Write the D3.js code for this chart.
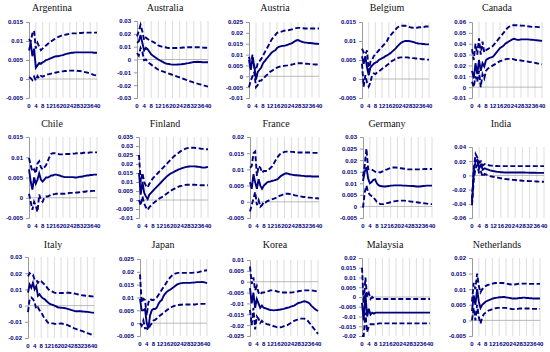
<!DOCTYPE html>
<html>
<head>
<meta charset="utf-8">
<script src="https://cdn.jsdelivr.net/npm/d3@7"></script>
<style>
  body { margin: 0; background: #fff; }
  svg { display: block; }
</style>
</head>
<body>
<div id="chart"></div>
<script>
// Impulse responses, periods 0..40: point estimate (mid) and bands (up / lo)
const countries = ["Argentina", "Australia", "Austria", "Belgium", "Canada",
                   "Chile", "Finland", "France", "Germany", "India",
                   "Italy", "Japan", "Korea", "Malaysia", "Netherlands"];
const periods = d3.range(0, 41);
const xTickLabels = [0, 4, 8, 12, 16, 20, 24, 28, 32, 36, 40];

const yMins  = [-0.005, -0.03, -0.01, -0.005, -0.01, -0.005, -0.01, -0.005, -0.005, -0.06, -0.02, -0.005, -0.025, -0.02, -0.005];
const yMaxs  = [0.015, 0.03, 0.025, 0.015, 0.06, 0.015, 0.035, 0.02, 0.03, 0.04, 0.03, 0.025, 0.01, 0.02, 0.02];
const ySteps = [0.005, 0.01, 0.005, 0.005, 0.01, 0.005, 0.005, 0.005, 0.005, 0.02, 0.01, 0.005, 0.005, 0.005, 0.005];

const argentinaMid = [.0075,.0095,.0060,.0080,.0030,.0036,.0042,.0040,.0044,.0046,
  .0050,.0051,.0053,.0055,.0057,.0059,.0060,.0060,.0061,.0062,
  .0063,.0065,.0066,.0067,.0068,.0069,.0069,.0070,.0070,.0070,
  .0070,.0070,.0070,.0070,.0070,.0070,.0070,.0070,.0069,.0069, .0069];
const argentinaUp = [.0105,.0098,.0120,.0127,.0080,.0095,.0085,.0076,.0080,.0084,
  .0088,.0092,.0096,.0099,.0102,.0105,.0108,.0110,.0112,.0114,
  .0115,.0116,.0117,.0118,.0119,.0120,.0120,.0120,.0120,.0121,
  .0121,.0121,.0122,.0122,.0122,.0122,.0122,.0122,.0122,.0122, .0122];
const argentinaLo = [.0005,.0002,-.0003,.0006,-.0004,.0008,.0002,.0008,.0006,.0008,
  .0010,.0012,.0013,.0014,.0015,.0016,.0017,.0018,.0019,.0020,
  .0020,.0021,.0021,.0022,.0022,.0022,.0022,.0022,.0022,.0021,
  .0021,.0020,.0019,.0018,.0017,.0016,.0015,.0013,.0011,.0010, .0008];

const australiaMid = [.013,.014,.019,.013,.007,.009,.008,.006,.004,.003,
  .002,.001,.000,-.0008,-.0015,-.0022,-.003,-.0033,-.0035,-.0038,
  -.004,-.004,-.004,-.0039,-.0038,-.0037,-.0035,-.0033,-.003,-.0028,
  -.0025,-.0022,-.002,-.0019,-.0018,-.0019,-.002,-.0021,-.0022,-.0022, -.0022];
const australiaUp = [.018,.022,.027,.022,.015,.017,.016,.015,.0145,.0138,
  .013,.012,.011,.0105,.010,.0097,.0095,.0092,.009,.009,
  .009,.009,.009,.009,.009,.0092,.0093,.0094,.0095,.0095,
  .0095,.0095,.0095,.0095,.0095,.0095,.0095,.0093,.0092,.0091, .009];
const australiaLo = [.005,.003,.009,.006,-.0005,.000,-.002,-.003,-.004,-.005,
  -.006,-.007,-.008,-.0085,-.009,-.0095,-.010,-.0105,-.011,-.0115,
  -.012,-.0125,-.013,-.0135,-.014,-.0145,-.015,-.0155,-.016,-.0165,
  -.017,-.0175,-.018,-.0184,-.0188,-.0192,-.0195,-.0199,-.0203,-.0207, -.021];

const austriaMid = [.0075,.003,.008,.005,-.0015,.002,.003,.004,.006,.007,
  .008,.009,.010,.011,.0115,.012,.013,.0135,.0138,.014,
  .014,.0142,.0145,.0148,.015,.0155,.016,.0165,.0167,.0163,
  .016,.0157,.0155,.0155,.0153,.0153,.0152,.0151,.015,.015, .0148];
const austriaUp = [.009,.005,.010,.004,.003,.006,.007,.008,.0095,.011,
  .0125,.014,.0155,.017,.018,.019,.020,.0203,.0205,.0207,
  .021,.0211,.0212,.0213,.0215,.0217,.022,.0222,.0223,.0223,
  .0222,.0221,.022,.022,.022,.022,.022,.022,.022,.022, .022];
const austriaLo = [-.005,-.002,.000,.002,-.005,-.004,-.002,-.002,-.001,-.0003,
  .0005,.001,.002,.0025,.003,.0035,.004,.0043,.0045,.0047,
  .0048,.0049,.005,.0052,.0053,.0055,.0057,.0059,.006,.006,
  .006,.0059,.0058,.0058,.0057,.0056,.0055,.0055,.0054,.0054, .0053];

const belgiumMid = [.006,.004,.006,.003,.001,.003,.0035,.004,.0043,.0045,
  .005,.0052,.0055,.0057,.006,.0062,.0065,.0068,.0072,.0076,
  .008,.0085,.009,.0094,.0097,.0099,.010,.010,.010,.0099,
  .0098,.0097,.0095,.0094,.0093,.0093,.0092,.0092,.0091,.0091, .0091];
const belgiumUp = [.008,.007,.0065,.0075,.002,.0045,.005,.006,.0065,.007,
  .0075,.008,.0085,.009,.0095,.010,.011,.0115,.012,.0125,
  .013,.0135,.0138,.014,.014,.014,.014,.0139,.0137,.0136,
  .0135,.0135,.0135,.0135,.0136,.0136,.0137,.0137,.0138,.0138, .0138];
const belgiumLo = [.004,-.002,.001,-.001,-.002,-.001,.001,.0015,.0013,.0017,
  .002,.0023,.0027,.003,.0033,.0037,.004,.0044,.0048,.005,
  .0053,.0055,.0056,.0057,.0057,.0057,.0057,.0057,.0056,.0056,
  .0055,.0055,.0054,.0054,.0053,.0053,.0052,.0052,.0052,.0051, .0051];

const canadaMid = [.015,.008,.022,.012,.025,.015,.022,.019,.025,.026,
  .027,.0275,.028,.030,.032,.034,.036,.037,.038,.040,
  .041,.042,.043,.044,.0445,.044,.0435,.0435,.044,.044,
  .044,.044,.044,.0438,.0437,.0435,.0433,.0432,.043,.0428, .0425];
const canadaUp = [.035,.025,.040,.030,.045,.030,.042,.032,.034,.035,
  .036,.037,.038,.040,.042,.044,.046,.048,.050,.052,
  .054,.0555,.0565,.057,.057,.057,.057,.0568,.0567,.0567,
  .0565,.0563,.056,.0558,.0555,.0555,.0555,.0555,.0553,.0552, .055];
const canadaLo = [.005,.000,.010,.005,.015,.000,.012,.008,.015,.017,
  .018,.019,.020,.021,.022,.023,.024,.0245,.025,.0255,
  .026,.026,.026,.026,.0255,.025,.025,.0247,.0245,.0242,
  .024,.0237,.0235,.0232,.023,.0227,.0224,.022,.0217,.0214, .021];

const chileMid = [.007,.004,.002,.005,.0035,.0045,.006,.0045,.004,.0045,
  .005,.005,.0052,.0055,.0055,.0057,.0057,.0056,.0055,.0053,
  .0052,.0051,.0051,.0051,.0051,.0051,.0051,.005,.005,.0051,
  .0052,.0052,.0053,.0054,.0055,.0055,.0056,.0056,.0057,.0057, .0057];
const chileUp = [.0098,.008,.0065,.007,.006,.0085,.009,.0075,.007,.0075,
  .008,.009,.010,.0108,.011,.011,.0109,.0108,.0107,.0107,
  .0107,.0107,.0108,.0108,.0108,.0108,.0109,.0109,.011,.011,
  .011,.011,.0111,.0111,.0111,.0111,.0112,.0112,.0112,.0112, .0112];
const chileLo = [.001,-.001,-.003,-.001,-.002,-.0035,.0008,-.0005,-.001,.000,
  .0003,.0003,.0005,.0007,.0008,.0009,.001,.001,.001,.001,
  .001,.001,.0011,.0011,.0012,.0012,.0012,.0012,.0013,.0013,
  .0014,.0014,.0015,.0015,.0016,.0016,.0016,.0017,.0017,.0017, .0017];

const finlandMid = [.015,.003,.010,.004,.002,.0005,.003,.004,.005,.006,
  .007,.008,.009,.010,.011,.012,.013,.0138,.0145,.015,
  .0155,.016,.0165,.017,.0173,.0177,.018,.0183,.0185,.0186,
  .0187,.0187,.0187,.0186,.0185,.0184,.0182,.018,.018,.0182, .0184];
const finlandUp = [.025,.010,.015,.010,.008,.007,.009,.0105,.012,.013,
  .014,.015,.016,.017,.018,.019,.020,.021,.022,.023,
  .024,.0248,.0255,.0262,.027,.0275,.028,.0285,.0288,.029,
  .029,.029,.029,.0289,.0288,.0287,.0285,.0284,.0283,.0282, .0282];
const finlandLo = [.000,-.003,.002,-.002,-.004,-.0055,-.004,-.003,-.002,-.0012,
  -.0005,.0002,.001,.0015,.002,.0028,.0035,.0042,.005,.0055,
  .006,.0065,.007,.0074,.0078,.008,.0083,.0084,.0085,.0085,
  .0085,.0085,.0085,.0084,.0083,.0083,.0082,.0082,.0082,.0082, .0082];

const franceMid = [.006,.004,.0085,.006,.004,.007,.005,.004,.005,.0055,
  .006,.0062,.0063,.0065,.0066,.0068,.007,.0075,.008,.0083,
  .0086,.0088,.0087,.0085,.0084,.0083,.0082,.0082,.0081,.0081,
  .008,.008,.0079,.0079,.0079,.0079,.0078,.0078,.0078,.0078, .0078];
const franceUp = [.0105,.011,.015,.0155,.008,.011,.0105,.009,.0095,.0095,
  .0095,.010,.0105,.011,.012,.013,.0138,.0145,.015,.0152,
  .0154,.0155,.0155,.0155,.0154,.0154,.0153,.0153,.0152,.0152,
  .0152,.0152,.0152,.0152,.0152,.0152,.0151,.0151,.0151,.0151, .0151];
const franceLo = [-.003,-.001,.001,.003,-.001,.0005,-.0015,-.001,.000,-.0002,
  .0002,.0004,.0006,.0008,.001,.0012,.0015,.0018,.002,.0022,
  .0024,.0025,.0025,.0024,.0023,.0022,.002,.0019,.0018,.0017,
  .0016,.0015,.0015,.0014,.0013,.0013,.0012,.0012,.0011,.0011, .001];

const germanyMid = [.011,.015,.017,.012,.010,.0105,.0115,.0117,.010,.0092,
  .0088,.0087,.0086,.0086,.0087,.0088,.009,.009,.0091,.0091,
  .0091,.0091,.0091,.009,.009,.009,.0089,.0089,.0088,.0088,
  .0087,.0086,.0086,.0086,.0087,.0088,.0089,.009,.009,.009, .009];
const germanyUp = [.013,.018,.025,.016,.016,.016,.0155,.015,.0148,.0148,
  .0147,.015,.0153,.0158,.016,.0163,.0166,.0168,.0168,.0168,
  .0167,.0166,.0165,.0164,.0163,.0162,.016,.016,.016,.016,
  .016,.016,.016,.016,.016,.0161,.0162,.0162,.0162,.0162, .0162];
const germanyLo = [-.0005,.006,.009,.006,.005,.0045,.004,.003,.002,.0015,
  .001,.001,.001,.0012,.0014,.0016,.0018,.002,.0022,.0023,
  .0024,.0025,.0025,.0025,.0025,.0024,.0023,.0022,.0021,.002,
  .0019,.0018,.0017,.0016,.0015,.0014,.0013,.0012,.0011,.001, .001];

const indiaMid = [-.038,.005,.020,.022,.010,.015,.008,.010,.009,.008,
  .007,.0065,.006,.0055,.005,.005,.0045,.0045,.004,.004,
  .004,.004,.004,.004,.004,.004,.004,.004,.004,.004,
  .0039,.0039,.0038,.0038,.0037,.0037,.0036,.0036,.0036,.0035, .0035];
const indiaUp = [-.034,.010,.030,.025,.018,.020,.014,.016,.015,.0145,
  .014,.0138,.0135,.0133,.0132,.013,.013,.013,.013,.013,
  .013,.013,.013,.013,.013,.013,.013,.013,.013,.013,
  .013,.013,.013,.013,.013,.013,.013,.013,.013,.013, .013];
const indiaLo = [-.042,-.005,.010,.015,.002,.005,-.002,.002,.001,.000,
  -.001,-.0015,-.002,-.0025,-.003,-.0035,-.004,-.0045,-.005,-.0053,
  -.0055,-.0058,-.006,-.0063,-.0065,-.0068,-.007,-.0072,-.0075,-.0077,
  -.0078,-.0079,-.008,-.0081,-.0083,-.0084,-.0085,-.0087,-.0088,-.0089, -.009];

const italyMid = [.008,.013,.011,.014,.010,.012,.006,.007,.0055,.0045,
  .004,.003,.002,.0012,.0008,.0005,.000,-.0005,-.001,-.0012,
  -.0013,-.0014,-.0015,-.0017,-.002,-.0023,-.0027,-.003,-.0033,-.0035,
  -.0035,-.0035,-.0035,-.0036,-.0037,-.0038,-.0039,-.004,-.0042,-.0043, -.0045];
const italyUp = [.018,.020,.019,.019,.016,.016,.014,.0155,.015,.014,
  .013,.012,.0105,.0095,.009,.0085,.008,.0078,.0077,.0077,
  .0078,.0078,.0079,.0079,.0079,.0079,.0078,.0077,.0075,.0072,
  .007,.0068,.0065,.0063,.0062,.0061,.006,.0059,.0058,.0057, .0055];
const italyLo = [-.004,.004,.005,.004,.002,-.002,-.001,-.003,-.004,-.006,
  -.008,-.009,-.0105,-.011,-.011,-.011,-.0112,-.0113,-.0112,-.0111,
  -.011,-.0112,-.0115,-.0117,-.012,-.0125,-.013,-.0135,-.014,-.0144,
  -.0148,-.0152,-.0155,-.0158,-.0162,-.0166,-.017,-.0173,-.0177,-.0181, -.0185];

const japanMid = [.0095,.005,.005,.0055,.000,-.002,.003,.005,.0055,.0055,
  .006,.0075,.0085,.009,.0105,.0115,.0122,.0127,.013,.0135,
  .014,.0145,.015,.0153,.0155,.0156,.0157,.0157,.0157,.0157,
  .0157,.0158,.0158,.0159,.016,.016,.016,.0161,.016,.0158, .0156];
const japanUp = [.019,.008,.0095,.009,.003,.008,.0095,.009,.009,.0095,
  .010,.011,.012,.013,.014,.015,.016,.017,.0178,.0185,
  .019,.0193,.0195,.0196,.0196,.0196,.0196,.0196,.0196,.0196,
  .0196,.0196,.0197,.0197,.0198,.0199,.0201,.0202,.0204,.0205, .0206];
const japanLo = [.000,-.001,.001,-.002,-.002,-.0025,-.001,.000,.001,.0013,
  .0018,.0025,.003,.0035,.004,.0045,.005,.0055,.006,.0063,
  .0066,.0068,.007,.0071,.0072,.0072,.0073,.0073,.0073,.0073,
  .0073,.0073,.0073,.0073,.0074,.0074,.0075,.0075,.0075,.0075, .0074];

const koreaMid = [-.003,-.010,-.005,-.012,-.008,-.010,-.012,-.011,-.012,-.0122,
  -.0125,-.0128,-.013,-.0131,-.0132,-.0131,-.013,-.0129,-.0128,-.0126,
  -.0125,-.0122,-.012,-.0118,-.0115,-.0112,-.011,-.0105,-.010,-.0097,
  -.0095,-.0092,-.009,-.0092,-.0095,-.010,-.011,-.0117,-.0125,-.013, -.0135];
const koreaUp = [.007,-.001,.002,-.004,-.002,-.005,-.006,-.005,-.005,-.0048,
  -.0045,-.0043,-.004,-.004,-.004,-.0042,-.0045,-.0047,-.005,-.005,
  -.005,-.005,-.005,-.005,-.005,-.0049,-.0048,-.0047,-.0045,-.0043,
  -.0042,-.0041,-.004,-.004,-.004,-.004,-.004,-.0041,-.0042,-.0044, -.0045];
const koreaLo = [-.013,-.020,-.012,-.022,-.016,-.017,-.019,-.018,-.019,-.0192,
  -.0195,-.0197,-.020,-.0202,-.0205,-.0207,-.021,-.021,-.021,-.0208,
  -.0205,-.0202,-.020,-.0195,-.019,-.0185,-.018,-.0177,-.0175,-.0172,
  -.017,-.017,-.017,-.0175,-.018,-.019,-.020,-.021,-.022,-.023, -.024];

const malaysiaMid = [-.003,-.012,.002,-.010,-.006,-.009,-.008,-.0085,-.008,-.008,
  -.008,-.008,-.008,-.008,-.008,-.008,-.008,-.008,-.008,-.008,
  -.008,-.008,-.008,-.008,-.008,-.008,-.008,-.008,-.008,-.008,
  -.008,-.008,-.008,-.008,-.008,-.008,-.008,-.008,-.008,-.008, -.008];
const malaysiaUp = [.015,-.003,.010,.000,.002,-.001,.000,-.001,-.001,-.001,
  -.001,-.001,-.001,-.001,-.001,-.001,-.001,-.001,-.001,-.001,
  -.001,-.001,-.001,-.001,-.001,-.001,-.001,-.001,-.001,-.001,
  -.001,-.001,-.001,-.001,-.001,-.001,-.001,-.001,-.001,-.001, -.001];
const malaysiaLo = [-.020,-.020,-.008,-.018,-.015,-.014,-.014,-.014,-.014,-.0138,
  -.0135,-.0135,-.0135,-.0135,-.0135,-.0135,-.0135,-.0135,-.0135,-.0135,
  -.0135,-.0135,-.0135,-.0135,-.0135,-.0135,-.0135,-.0135,-.0135,-.0135,
  -.0135,-.0135,-.0135,-.0135,-.0135,-.0135,-.0135,-.0135,-.0135,-.0135, -.0135];

const netherlandsMid = [.003,.008,.005,.010,.006,.004,.005,.0055,.006,.0063,
  .0065,.0067,.007,.0071,.0072,.0073,.0074,.0074,.0075,.0075,
  .0074,.0073,.0072,.0071,.007,.007,.007,.0071,.0072,.0072,
  .0073,.0073,.0072,.0072,.0071,.0071,.007,.007,.007,.007, .007];
const netherlandsUp = [.006,.012,.010,.015,.011,.009,.010,.0105,.011,.0113,
  .0115,.0117,.0118,.0119,.012,.012,.012,.012,.012,.0119,
  .0118,.0117,.0116,.0115,.0115,.0115,.0116,.0117,.0118,.0118,
  .0118,.0118,.0118,.0117,.0117,.0117,.0117,.0117,.0117,.0117, .0117];
const netherlandsLo = [.000,.004,.000,.005,.001,-.001,.001,.002,.0025,.003,
  .0032,.0034,.0036,.0038,.0039,.004,.004,.004,.004,.004,
  .004,.0039,.0038,.0037,.0036,.0036,.0036,.0037,.0038,.0038,
  .0038,.0038,.0038,.0038,.0038,.0037,.0037,.0037,.0037,.0037, .0037];

const midSeries = [argentinaMid, australiaMid, austriaMid, belgiumMid, canadaMid,
  chileMid, finlandMid, franceMid, germanyMid, indiaMid,
  italyMid, japanMid, koreaMid, malaysiaMid, netherlandsMid];
const upSeries = [argentinaUp, australiaUp, austriaUp, belgiumUp, canadaUp,
  chileUp, finlandUp, franceUp, germanyUp, indiaUp,
  italyUp, japanUp, koreaUp, malaysiaUp, netherlandsUp];
const loSeries = [argentinaLo, australiaLo, austriaLo, belgiumLo, canadaLo,
  chileLo, finlandLo, franceLo, germanyLo, indiaLo,
  italyLo, japanLo, koreaLo, malaysiaLo, netherlandsLo];

// plot area of each small chart: [left, right, top, bottom], title centre x
const plotBoxes = [
  [29, 97, 22, 98, 52], [137, 208, 21, 98, 165], [249, 319, 22, 98, 275], [362, 429, 22, 98, 387], [472, 542, 22, 98, 497],
  [29, 97, 137, 218, 52], [139, 208, 137, 218, 165], [250, 319, 137, 218, 276], [363, 432, 137, 218, 387], [472, 544, 147, 218, 501],
  [28, 94, 257, 338, 53], [140, 207, 259, 336, 163], [250, 318, 260, 336, 275], [362, 430, 258, 336, 385], [472, 540, 258, 336, 497]
];
const titleY = [11, 127, 248];

const navy = "#000080";
const fmt = v => String(+v.toFixed(4));

const svg = d3.select("#chart").append("svg")
    .attr("width", 550)
    .attr("height", 352);

countries.forEach((name, i) => {
    const [left, right, top, bottom, titleX] = plotBoxes[i];
    const g = svg.append("g");

    const x = d3.scaleLinear().domain([0, 40]).range([left, right]);
    const y = d3.scaleLinear().domain([yMins[i], yMaxs[i]]).range([bottom, top]);
    const yTicks = d3.range(yMins[i], yMaxs[i] + ySteps[i] / 2, ySteps[i]);

    // vertical gridlines
    g.append("g").selectAll("line")
        .data(xTickLabels.slice(1))
        .enter().append("line")
        .attr("x1", d => x(d)).attr("x2", d => x(d))
        .attr("y1", top).attr("y2", bottom)
        .attr("stroke", "#d4d4d4")
        .attr("stroke-width", 0.8);

    // y axis
    const yAxis = g.append("g")
        .attr("transform", `translate(${left},0)`)
        .call(d3.axisLeft(y).tickValues(yTicks).tickSize(3).tickPadding(3).tickFormat(fmt));
    yAxis.select(".domain").attr("stroke", "#9a9a9a");
    yAxis.selectAll(".tick line").attr("stroke", "#9a9a9a");
    yAxis.selectAll("text")
        .attr("fill", navy)
        .attr("font-family", "Liberation Sans, Arial, sans-serif")
        .attr("font-weight", "bold")
        .attr("font-size", "6px");

    // zero line
    g.append("line")
        .attr("x1", left).attr("x2", right)
        .attr("y1", y(0)).attr("y2", y(0))
        .attr("stroke", "#a8a8a8")
        .attr("stroke-width", 0.8);

    // x tick labels (at the bottom of the plot)
    g.append("g").selectAll("text")
        .data(xTickLabels)
        .enter().append("text")
        .attr("x", d => x(d))
        .attr("y", bottom + 10)
        .attr("text-anchor", "middle")
        .attr("fill", navy)
        .attr("font-family", "Liberation Sans, Arial, sans-serif")
        .attr("font-weight", "bold")
        .attr("font-size", "6px")
        .text(d => d);

    const line = d3.line()
        .x((d, k) => x(periods[k]))
        .y(d => y(d));

    g.append("path").datum(upSeries[i])
        .attr("d", line)
        .attr("fill", "none")
        .attr("stroke", navy)
        .attr("stroke-width", 1.9)
        .attr("stroke-dasharray", "5,2.5");
    g.append("path").datum(loSeries[i])
        .attr("d", line)
        .attr("fill", "none")
        .attr("stroke", navy)
        .attr("stroke-width", 1.9)
        .attr("stroke-dasharray", "5,2.5");
    g.append("path").datum(midSeries[i])
        .attr("d", line)
        .attr("fill", "none")
        .attr("stroke", navy)
        .attr("stroke-width", 1.9);

    // title
    g.append("text")
        .attr("x", titleX)
        .attr("y", titleY[Math.floor(i / 5)])
        .attr("text-anchor", "middle")
        .attr("font-family", "Liberation Serif, Times New Roman, serif")
        .attr("font-size", "10px")
        .attr("fill", "#111")
        .text(name);
});
</script>
</body>
</html>
